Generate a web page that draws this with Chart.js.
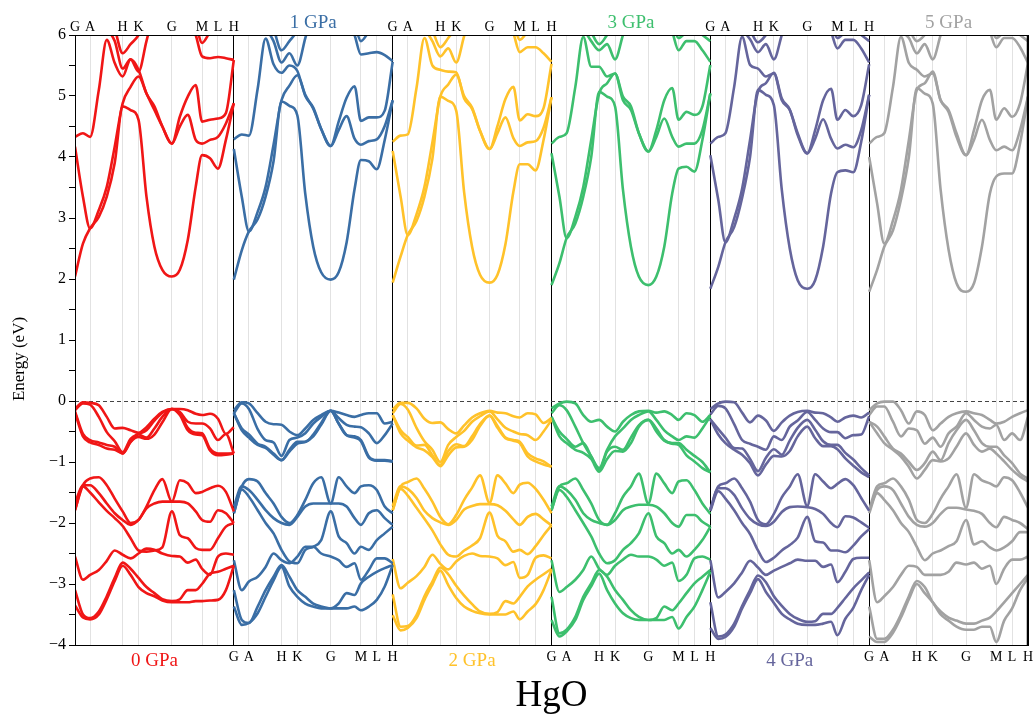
<!DOCTYPE html>
<html>
<head>
<meta charset="utf-8">
<title>HgO band structure</title>
<script src="https://cdn.jsdelivr.net/npm/chart.js@4.4.1/dist/chart.umd.min.js"></script>
<style>
  html, body { margin: 0; padding: 0; background: #fff; }
  #wrap { width: 1035px; height: 715px; }
</style>
</head>
<body>
<div id="wrap"><canvas id="bands" width="1035" height="715"></canvas></div>
<script>
/* ========================================
   HgO band structure, 0-5 GPa (Chart.js)
   ======================================== */

/* k-path sample positions inside one panel (0 = G, 1 = H) */
var K_PATH = [0, 0.05, 0.095, 0.15, 0.2, 0.25, 0.30, 0.35, 0.40, 0.45, 0.5, 0.55, 0.61, 0.66, 0.71, 0.76, 0.80, 0.85, 0.90, 0.95, 1.0];

/* high-symmetry points */
var SYM_NAMES = ['G', 'A', 'H', 'K', 'G', 'M', 'L', 'H'];
var SYM_FRAC = [0, 0.095, 0.30, 0.40, 0.61, 0.80, 0.90, 1.0];

var PANEL_TITLES = ['0 GPa', '1 GPa', '2 GPa', '3 GPa', '4 GPa', '5 GPa'];
var PANEL_COLORS = ['#f01616', '#3a6ea5', '#ffc22a', '#3dbf6e', '#65659c', '#a2a2a2'];

var Y_TICKS = [-4, -3.5, -3, -2.5, -2, -1.5, -1, -0.5, 0, 0.5, 1, 1.5, 2, 2.5, 3, 3.5, 4, 4.5, 5, 5.5, 6];

/* bands per pressure: 4 top valence, 3 middle, 3 lower, 5 conduction (eV) */
var BANDS_0 = [
  [-0.13, -0.02, -0.03, -0.07, -0.26, -0.45, -0.44, -0.48, -0.52, -0.43, -0.29, -0.18, -0.13, -0.13, -0.15, -0.21, -0.23, -0.21, -0.29, -0.54, -0.43],
  [-0.15, -0.04, -0.06, -0.26, -0.51, -0.66, -0.84, -0.62, -0.54, -0.48, -0.32, -0.19, -0.13, -0.18, -0.34, -0.37, -0.37, -0.45, -0.64, -0.54, -0.86],
  [-0.17, -0.54, -0.64, -0.68, -0.72, -0.75, -0.86, -0.67, -0.55, -0.6, -0.45, -0.26, -0.13, -0.2, -0.44, -0.52, -0.53, -0.78, -0.86, -0.86, -0.86],
  [-0.19, -0.58, -0.68, -0.72, -0.78, -0.8, -0.86, -0.67, -0.59, -0.62, -0.55, -0.35, -0.13, -0.23, -0.48, -0.55, -0.56, -0.81, -0.89, -0.88, -0.86],
  [-1.79, -1.38, -1.27, -1.25, -1.38, -1.6, -1.81, -2.0, -1.95, -1.73, -1.46, -1.28, -1.65, -1.3, -1.35, -1.51, -1.49, -1.43, -1.39, -1.49, -1.81],
  [-1.68, -1.38, -1.38, -1.51, -1.68, -1.84, -1.95, -2.03, -1.95, -1.76, -1.68, -1.65, -1.65, -1.65, -1.68, -1.81, -1.95, -1.98, -1.79, -1.84, -2.0],
  [-1.79, -1.4, -1.5, -1.66, -1.8, -1.92, -2.05, -2.25, -2.45, -2.47, -2.45, -2.4, -1.81, -2.2, -2.25, -2.41, -2.44, -2.44, -2.25, -2.06, -2.0],
  [-2.55, -2.93, -2.85, -2.77, -2.62, -2.45, -2.52, -2.58, -2.5, -2.42, -2.44, -2.5, -2.54, -2.55, -2.65, -2.6, -2.75, -2.85, -2.55, -2.5, -2.52],
  [-3.1, -3.5, -3.56, -3.45, -3.2, -2.9, -2.65, -2.75, -2.9, -3.05, -3.15, -3.25, -3.28, -3.25, -3.1, -3.1, -3.0, -2.83, -2.8, -2.75, -2.7],
  [-3.35, -3.55, -3.58, -3.5, -3.25, -2.95, -2.7, -2.85, -3.05, -3.15, -3.2, -3.27, -3.3, -3.3, -3.3, -3.28, -3.28, -3.27, -3.26, -3.1, -2.7],
  [2.04, 2.58, 2.83, 3.02, 3.35, 3.9, 4.83, 4.77, 4.61, 3.35, 2.53, 2.15, 2.04, 2.15, 2.64, 3.51, 4.03, 3.98, 3.81, 4.28, 4.88],
  [4.17, 3.35, 2.83, 3.13, 3.51, 4.17, 4.88, 5.15, 5.32, 5.04, 4.77, 4.5, 4.22, 4.5, 4.69, 4.28, 4.22, 4.28, 4.33, 4.55, 4.88],
  [4.33, 4.39, 4.33, 5.1, 5.92, 5.54, 5.32, 5.6, 5.43, 5.04, 4.83, 4.5, 4.22, 4.66, 4.99, 5.18, 4.58, 4.61, 4.63, 4.72, 5.59],
  [6.8, 6.6, 6.4, 6.2, 6.1, 5.9, 5.45, 5.6, 5.4, 5.9, 6.4, 6.6, 6.8, 6.6, 6.3, 6.0, 5.65, 5.62, 5.64, 5.62, 5.59],
  [7.0, 7.0, 6.8, 6.6, 6.4, 6.1, 5.7, 5.85, 6.0, 6.3, 6.6, 6.8, 7.0, 6.8, 6.6, 6.2, 5.87, 6.05, 6.2, 6.4, 6.6]
];

var BANDS_1 = [
  [-0.15, -0.02, -0.04, -0.2, -0.34, -0.38, -0.39, -0.5, -0.56, -0.45, -0.31, -0.23, -0.16, -0.19, -0.23, -0.26, -0.23, -0.2, -0.2, -0.37, -0.34],
  [-0.2, -0.04, -0.13, -0.46, -0.64, -0.68, -0.9, -0.64, -0.6, -0.53, -0.37, -0.26, -0.16, -0.28, -0.39, -0.42, -0.43, -0.53, -0.69, -0.56, -0.37],
  [-0.2, -0.45, -0.55, -0.7, -0.75, -0.86, -0.97, -0.8, -0.67, -0.67, -0.55, -0.36, -0.16, -0.37, -0.56, -0.58, -0.64, -0.91, -0.97, -0.97, -0.99],
  [-0.2, -0.48, -0.6, -0.72, -0.77, -0.88, -0.97, -0.83, -0.7, -0.67, -0.58, -0.39, -0.16, -0.37, -0.56, -0.6, -0.66, -0.93, -0.98, -0.98, -0.99],
  [-1.84, -1.4, -1.28, -1.32, -1.51, -1.68, -1.9, -2.0, -1.87, -1.62, -1.35, -1.25, -1.68, -1.25, -1.4, -1.51, -1.4, -1.38, -1.46, -1.73, -1.84],
  [-1.73, -1.4, -1.46, -1.62, -1.79, -1.92, -2.0, -2.03, -1.9, -1.73, -1.68, -1.68, -1.68, -1.68, -1.73, -1.92, -2.03, -1.84, -1.79, -1.92, -2.03],
  [-1.84, -1.45, -1.57, -1.79, -2.0, -2.17, -2.44, -2.63, -2.66, -2.44, -2.39, -2.28, -1.81, -2.22, -2.33, -2.5, -2.39, -2.44, -2.28, -2.17, -2.06],
  [-2.61, -3.1, -2.96, -2.88, -2.72, -2.5, -2.61, -2.66, -2.55, -2.39, -2.39, -2.5, -2.55, -2.61, -2.72, -2.66, -2.93, -2.77, -2.58, -2.58, -2.66],
  [-3.1, -3.59, -3.64, -3.37, -3.1, -2.88, -2.69, -2.88, -3.1, -3.21, -3.32, -3.37, -3.4, -3.32, -3.15, -3.18, -2.99, -2.88, -2.8, -2.74, -2.69],
  [-3.37, -3.67, -3.64, -3.48, -3.21, -2.94, -2.72, -3.04, -3.21, -3.32, -3.37, -3.4, -3.4, -3.4, -3.4, -3.37, -3.43, -3.37, -3.26, -3.04, -2.69],
  [1.99, 2.47, 2.78, 2.98, 3.35, 3.93, 4.91, 4.84, 4.68, 3.39, 2.53, 2.11, 1.99, 2.11, 2.6, 3.47, 3.95, 3.93, 3.8, 4.28, 4.93],
  [4.13, 3.35, 2.78, 3.1, 3.51, 4.2, 4.93, 5.17, 5.34, 5.02, 4.79, 4.46, 4.18, 4.44, 4.67, 4.3, 4.2, 4.26, 4.29, 4.51, 4.93],
  [4.29, 4.37, 4.35, 5.12, 5.94, 5.52, 5.38, 5.5, 5.41, 5.0, 4.81, 4.46, 4.18, 4.58, 4.97, 5.16, 4.59, 4.65, 4.65, 4.76, 5.56],
  [6.8, 6.6, 6.4, 6.2, 6.1, 5.9, 5.55, 5.7, 5.5, 5.95, 6.4, 6.6, 6.8, 6.6, 6.3, 6.0, 5.68, 5.7, 5.72, 5.67, 5.57],
  [7.0, 7.0, 6.8, 6.6, 6.4, 6.1, 5.75, 5.9, 6.07, 6.33, 6.6, 6.8, 7.0, 6.8, 6.57, 6.2, 5.9, 6.05, 6.17, 6.27, 6.37]
];

var BANDS_2 = [
  [-0.14, -0.03, -0.03, -0.12, -0.29, -0.36, -0.35, -0.46, -0.53, -0.4, -0.27, -0.2, -0.16, -0.19, -0.2, -0.25, -0.27, -0.2, -0.22, -0.36, -0.28],
  [-0.2, -0.05, -0.14, -0.44, -0.66, -0.8, -1.0, -0.72, -0.59, -0.49, -0.34, -0.25, -0.17, -0.3, -0.44, -0.5, -0.54, -0.56, -0.64, -0.5, -0.31],
  [-0.23, -0.48, -0.59, -0.73, -0.72, -0.89, -1.05, -0.82, -0.71, -0.74, -0.58, -0.38, -0.24, -0.41, -0.6, -0.64, -0.67, -0.86, -0.94, -0.99, -1.08],
  [-0.23, -0.53, -0.65, -0.76, -0.81, -0.92, -1.07, -0.89, -0.76, -0.75, -0.64, -0.41, -0.24, -0.44, -0.61, -0.65, -0.69, -0.91, -0.99, -1.04, -1.08],
  [-1.79, -1.4, -1.33, -1.27, -1.44, -1.65, -1.9, -2.02, -1.87, -1.62, -1.42, -1.22, -1.67, -1.22, -1.35, -1.51, -1.37, -1.34, -1.44, -1.62, -1.84],
  [-1.72, -1.4, -1.44, -1.59, -1.8, -1.92, -1.99, -2.03, -1.95, -1.78, -1.72, -1.69, -1.69, -1.71, -1.8, -1.94, -2.03, -1.9, -1.85, -1.94, -2.04],
  [-1.79, -1.44, -1.55, -1.75, -1.93, -2.12, -2.35, -2.52, -2.55, -2.45, -2.37, -2.25, -1.83, -2.21, -2.3, -2.47, -2.44, -2.51, -2.38, -2.2, -2.04],
  [-2.59, -3.07, -2.98, -2.87, -2.72, -2.52, -2.67, -2.76, -2.63, -2.54, -2.5, -2.54, -2.55, -2.58, -2.69, -2.64, -2.9, -2.85, -2.57, -2.53, -2.58],
  [-3.17, -3.7, -3.69, -3.51, -3.2, -2.96, -2.73, -2.84, -3.03, -3.19, -3.33, -3.45, -3.49, -3.46, -3.28, -3.32, -3.21, -3.04, -2.93, -2.84, -2.75],
  [-3.51, -3.76, -3.72, -3.56, -3.26, -3.01, -2.78, -3.02, -3.23, -3.37, -3.44, -3.48, -3.5, -3.5, -3.5, -3.45, -3.58, -3.45, -3.33, -3.1, -2.77],
  [1.94, 2.37, 2.72, 2.95, 3.35, 3.97, 4.99, 4.92, 4.76, 3.42, 2.53, 2.07, 1.94, 2.07, 2.57, 3.43, 3.88, 3.88, 3.78, 4.28, 4.98],
  [4.1, 3.35, 2.72, 3.06, 3.51, 4.24, 4.99, 5.19, 5.35, 5.0, 4.81, 4.43, 4.13, 4.39, 4.65, 4.31, 4.18, 4.24, 4.26, 4.48, 4.98],
  [4.25, 4.35, 4.37, 5.13, 5.95, 5.5, 5.43, 5.4, 5.39, 4.96, 4.79, 4.43, 4.13, 4.51, 4.95, 5.15, 4.6, 4.7, 4.67, 4.8, 5.53],
  [6.8, 6.6, 6.4, 6.2, 6.1, 5.9, 5.65, 5.78, 5.55, 5.98, 6.4, 6.6, 6.8, 6.6, 6.3, 6.03, 5.72, 5.8, 5.8, 5.7, 5.56],
  [7.0, 7.0, 6.8, 6.6, 6.35, 6.08, 5.8, 5.95, 6.13, 6.37, 6.6, 6.8, 7.0, 6.8, 6.53, 6.2, 5.92, 6.05, 6.13, 6.13, 6.13]
];

var BANDS_3 = [
  [-0.12, -0.04, -0.01, -0.04, -0.23, -0.34, -0.31, -0.42, -0.5, -0.34, -0.23, -0.17, -0.16, -0.19, -0.17, -0.23, -0.31, -0.2, -0.23, -0.34, -0.23],
  [-0.2, -0.07, -0.15, -0.42, -0.69, -0.91, -1.1, -0.8, -0.58, -0.45, -0.31, -0.23, -0.17, -0.31, -0.48, -0.58, -0.64, -0.58, -0.6, -0.45, -0.25],
  [-0.26, -0.5, -0.62, -0.75, -0.69, -0.91, -1.13, -0.83, -0.75, -0.8, -0.6, -0.4, -0.31, -0.45, -0.64, -0.69, -0.69, -0.8, -0.9, -1.0, -1.17],
  [-0.26, -0.58, -0.69, -0.8, -0.85, -0.95, -1.16, -0.95, -0.82, -0.83, -0.69, -0.42, -0.31, -0.5, -0.65, -0.7, -0.72, -0.89, -0.99, -1.1, -1.17],
  [-1.79, -1.4, -1.35, -1.27, -1.46, -1.68, -1.95, -2.03, -1.84, -1.57, -1.4, -1.19, -1.68, -1.19, -1.35, -1.51, -1.32, -1.3, -1.46, -1.68, -1.85],
  [-1.73, -1.4, -1.46, -1.62, -1.84, -1.95, -2.0, -2.03, -1.95, -1.79, -1.73, -1.7, -1.7, -1.73, -1.84, -2.0, -2.06, -1.87, -1.87, -1.98, -2.06],
  [-1.79, -1.46, -1.57, -1.79, -2.0, -2.22, -2.5, -2.66, -2.61, -2.44, -2.33, -2.17, -1.84, -2.22, -2.33, -2.5, -2.44, -2.55, -2.44, -2.28, -2.06],
  [-2.61, -3.13, -3.05, -2.93, -2.77, -2.55, -2.75, -2.85, -2.7, -2.6, -2.52, -2.55, -2.55, -2.6, -2.7, -2.65, -2.95, -2.85, -2.58, -2.55, -2.6],
  [-3.21, -3.81, -3.75, -3.54, -3.21, -2.99, -2.77, -2.88, -3.1, -3.26, -3.43, -3.54, -3.59, -3.56, -3.37, -3.43, -3.32, -3.15, -2.99, -2.88, -2.77],
  [-3.59, -3.86, -3.78, -3.59, -3.26, -3.04, -2.83, -3.1, -3.32, -3.48, -3.56, -3.59, -3.59, -3.59, -3.59, -3.54, -3.73, -3.54, -3.37, -3.1, -2.8],
  [1.9, 2.26, 2.67, 2.91, 3.35, 4.0, 5.07, 4.99, 4.83, 3.46, 2.53, 2.04, 1.9, 2.04, 2.53, 3.4, 3.81, 3.84, 3.76, 4.28, 5.04],
  [4.06, 3.35, 2.67, 3.02, 3.51, 4.28, 5.04, 5.21, 5.37, 4.99, 4.83, 4.39, 4.09, 4.33, 4.63, 4.33, 4.17, 4.22, 4.22, 4.44, 5.04],
  [4.22, 4.33, 4.39, 5.15, 5.97, 5.48, 5.48, 5.32, 5.37, 4.93, 4.77, 4.39, 4.09, 4.44, 4.93, 5.13, 4.61, 4.74, 4.69, 4.83, 5.51],
  [6.8, 6.6, 6.4, 6.2, 6.1, 5.9, 5.75, 5.85, 5.6, 6.0, 6.4, 6.6, 6.8, 6.6, 6.3, 6.05, 5.75, 5.9, 5.9, 5.75, 5.56],
  [7.0, 7.0, 6.8, 6.6, 6.3, 6.05, 5.85, 6.0, 6.2, 6.4, 6.6, 6.8, 7.0, 6.8, 6.5, 6.2, 5.95, 6.05, 6.1, 6.0, 5.9]
];

var BANDS_4 = [
  [-0.13, -0.04, -0.01, -0.02, -0.19, -0.35, -0.24, -0.32, -0.49, -0.35, -0.24, -0.18, -0.16, -0.19, -0.2, -0.27, -0.34, -0.27, -0.24, -0.27, -0.19],
  [-0.22, -0.08, -0.12, -0.38, -0.64, -0.7, -0.75, -0.8, -0.58, -0.64, -0.42, -0.32, -0.18, -0.31, -0.45, -0.51, -0.51, -0.61, -0.56, -0.55, -0.25],
  [-0.3, -0.46, -0.6, -0.77, -0.78, -0.95, -1.15, -0.93, -0.79, -0.88, -0.65, -0.44, -0.31, -0.47, -0.66, -0.72, -0.72, -0.85, -0.96, -1.1, -1.22],
  [-0.3, -0.55, -0.69, -0.8, -0.88, -1.02, -1.22, -1.04, -0.9, -0.91, -0.82, -0.58, -0.42, -0.61, -0.74, -0.74, -0.79, -0.94, -1.06, -1.17, -1.25],
  [-1.79, -1.4, -1.35, -1.27, -1.43, -1.65, -1.95, -2.02, -1.85, -1.58, -1.4, -1.2, -1.72, -1.2, -1.32, -1.43, -1.36, -1.28, -1.38, -1.59, -1.8],
  [-1.77, -1.43, -1.43, -1.54, -1.76, -1.93, -2.02, -2.05, -1.98, -1.82, -1.74, -1.73, -1.74, -1.77, -1.85, -2.0, -2.07, -1.89, -1.91, -1.99, -2.08],
  [-1.8, -1.48, -1.6, -1.79, -2.0, -2.18, -2.45, -2.64, -2.57, -2.45, -2.36, -2.24, -1.9, -2.3, -2.32, -2.45, -2.45, -2.48, -2.37, -2.22, -2.1],
  [-2.61, -3.22, -3.13, -2.99, -2.81, -2.62, -2.73, -2.85, -2.78, -2.72, -2.66, -2.6, -2.62, -2.62, -2.72, -2.68, -2.97, -2.8, -2.59, -2.57, -2.57],
  [-3.3, -3.86, -3.83, -3.65, -3.36, -3.1, -2.86, -2.97, -3.2, -3.36, -3.49, -3.57, -3.62, -3.61, -3.49, -3.49, -3.39, -3.23, -3.07, -2.94, -2.81],
  [-3.72, -3.9, -3.87, -3.7, -3.4, -3.15, -2.92, -3.13, -3.31, -3.49, -3.58, -3.65, -3.67, -3.67, -3.65, -3.62, -3.84, -3.57, -3.39, -3.1, -2.85],
  [1.84, 2.2, 2.6, 2.85, 3.33, 4.0, 5.1, 5.02, 4.85, 3.46, 2.5, 1.98, 1.84, 1.98, 2.53, 3.4, 3.75, 3.78, 3.75, 4.25, 5.02],
  [4.03, 3.3, 2.6, 2.99, 3.48, 4.28, 5.07, 5.21, 5.38, 4.96, 4.78, 4.36, 4.06, 4.3, 4.62, 4.3, 4.14, 4.2, 4.16, 4.44, 5.02],
  [4.22, 4.33, 4.39, 5.15, 5.97, 5.51, 5.45, 5.32, 5.37, 4.93, 4.77, 4.39, 4.06, 4.44, 4.93, 5.12, 4.61, 4.77, 4.67, 4.85, 5.52],
  [6.8, 6.6, 6.35, 6.15, 6.08, 5.93, 5.72, 5.85, 5.6, 6.0, 6.4, 6.6, 6.8, 6.6, 6.3, 6.05, 5.78, 5.92, 5.92, 5.78, 5.55],
  [7.0, 7.0, 6.8, 6.6, 6.3, 6.08, 5.88, 6.0, 6.2, 6.4, 6.6, 6.8, 7.0, 6.8, 6.5, 6.2, 5.95, 6.05, 6.1, 6.0, 5.9]
];

var BANDS_5 = [
  [-0.15, -0.04, -0.01, -0.01, -0.15, -0.37, -0.17, -0.23, -0.48, -0.37, -0.26, -0.2, -0.17, -0.2, -0.23, -0.31, -0.37, -0.34, -0.26, -0.2, -0.15],
  [-0.23, -0.09, -0.09, -0.34, -0.58, -0.45, -0.48, -0.7, -0.6, -0.75, -0.53, -0.42, -0.2, -0.31, -0.42, -0.45, -0.39, -0.64, -0.53, -0.64, -0.26],
  [-0.34, -0.42, -0.58, -0.78, -0.86, -1.0, -1.13, -1.02, -0.83, -0.97, -0.69, -0.48, -0.31, -0.48, -0.69, -0.75, -0.75, -0.89, -1.02, -1.19, -1.27],
  [-0.34, -0.53, -0.69, -0.8, -0.91, -1.08, -1.27, -1.13, -0.97, -0.99, -0.94, -0.75, -0.53, -0.72, -0.83, -0.78, -0.86, -0.99, -1.13, -1.24, -1.32],
  [-1.79, -1.4, -1.35, -1.27, -1.4, -1.62, -1.95, -2.0, -1.85, -1.6, -1.4, -1.2, -1.75, -1.2, -1.3, -1.35, -1.4, -1.25, -1.3, -1.5, -1.75],
  [-1.8, -1.46, -1.4, -1.46, -1.68, -1.9, -2.03, -2.06, -2.0, -1.85, -1.75, -1.75, -1.78, -1.8, -1.85, -2.0, -2.07, -1.9, -1.95, -2.0, -2.1],
  [-1.84, -1.51, -1.62, -1.79, -2.0, -2.15, -2.39, -2.61, -2.5, -2.45, -2.38, -2.3, -1.95, -2.35, -2.3, -2.4, -2.45, -2.4, -2.3, -2.15, -2.15],
  [-2.61, -3.3, -3.2, -3.05, -2.85, -2.7, -2.72, -2.85, -2.85, -2.85, -2.8, -2.65, -2.68, -2.65, -2.75, -2.7, -3.0, -2.75, -2.6, -2.6, -2.55],
  [-3.37, -3.9, -3.9, -3.75, -3.5, -3.2, -2.95, -3.05, -3.3, -3.45, -3.55, -3.6, -3.65, -3.65, -3.6, -3.55, -3.45, -3.3, -3.15, -3.0, -2.85],
  [-3.86, -3.95, -3.95, -3.8, -3.55, -3.25, -3.0, -3.15, -3.3, -3.5, -3.6, -3.7, -3.75, -3.75, -3.7, -3.7, -3.95, -3.6, -3.4, -3.1, -2.9],
  [1.79, 2.15, 2.53, 2.8, 3.3, 4.0, 5.13, 5.04, 4.88, 3.46, 2.48, 1.93, 1.79, 1.93, 2.53, 3.4, 3.68, 3.73, 3.73, 4.22, 4.99],
  [4.0, 3.24, 2.58, 2.96, 3.46, 4.28, 5.1, 5.21, 5.4, 4.93, 4.74, 4.33, 4.03, 4.28, 4.61, 4.28, 4.11, 4.17, 4.11, 4.44, 4.99],
  [4.22, 4.33, 4.39, 5.15, 5.97, 5.54, 5.43, 5.32, 5.37, 4.93, 4.77, 4.39, 4.03, 4.44, 4.93, 5.1, 4.61, 4.8, 4.66, 4.88, 5.54],
  [6.8, 6.6, 6.3, 6.1, 6.05, 5.95, 5.7, 5.85, 5.6, 6.0, 6.4, 6.6, 6.8, 6.6, 6.3, 6.05, 5.8, 5.95, 5.95, 5.8, 5.54],
  [7.0, 7.0, 6.8, 6.6, 6.3, 6.1, 5.9, 6.0, 6.2, 6.4, 6.6, 6.8, 7.0, 6.8, 6.5, 6.2, 5.95, 6.05, 6.1, 6.0, 5.9]
];

var PANELS = [BANDS_0, BANDS_1, BANDS_2, BANDS_3, BANDS_4, BANDS_5];

var SERIF = '"Liberation Serif", "Times New Roman", "DejaVu Serif", serif';

/* one dataset per band, x offset by panel index */
var datasets = [];
PANELS.forEach(function(bands, p) {
  bands.forEach(function(band) {
    datasets.push({
      data: K_PATH.map(function(k, i) { return { x: p + k, y: band[i] }; }),
      borderColor: PANEL_COLORS[p],
      borderWidth: 2.6,
      pointRadius: 0,
      fill: false,
      cubicInterpolationMode: 'monotone',
      clip: 0
    });
  });
});

/* x grid ticks: every high-symmetry point of every panel */
var xTickValues = [];
for (var p = 0; p < PANELS.length; p++) {
  SYM_FRAC.forEach(function(f, i) {
    if (i < SYM_FRAC.length - 1) xTickValues.push(p + f);
  });
}
xTickValues.push(PANELS.length);

function isBoundary(v) { return Math.abs(v - Math.round(v)) < 1e-6; }

/* dashed Fermi line, frame and all texts */
var decorPlugin = {
  id: 'decor',
  beforeDatasetsDraw: function(chart) {
    var ctx = chart.ctx, area = chart.chartArea;
    var y0 = Math.round(chart.scales.y.getPixelForValue(0)) + 0.5;
    ctx.save();
    ctx.strokeStyle = '#444';
    ctx.lineWidth = 1.2;
    ctx.setLineDash([4, 3]);
    ctx.beginPath();
    ctx.moveTo(area.left, y0);
    ctx.lineTo(area.right, y0);
    ctx.stroke();
    ctx.restore();
  },
  afterDraw: function(chart) {
    var ctx = chart.ctx, area = chart.chartArea, xs = chart.scales.x;
    ctx.save();
    /* frame */
    ctx.strokeStyle = '#000';
    ctx.lineWidth = 1;
    ctx.strokeRect(Math.round(area.left) + 0.5, Math.round(area.top) + 0.5,
      Math.round(area.right - area.left) - 1, Math.round(area.bottom - area.top));
    ctx.lineWidth = 1.5;
    ctx.beginPath();
    ctx.moveTo(area.right - 0.5, area.top);
    ctx.lineTo(area.right - 0.5, area.bottom);
    ctx.stroke();

    /* high-symmetry labels: top for even panels, bottom for odd panels */
    ctx.fillStyle = '#000';
    ctx.font = '14px ' + SERIF;
    ctx.textAlign = 'center';
    ctx.textBaseline = 'alphabetic';
    for (var p = 0; p < PANELS.length; p++) {
      var yLab = (p % 2 === 0) ? area.top - 4 : area.bottom + 16;
      SYM_NAMES.forEach(function(name, i) {
        ctx.fillText(name, xs.getPixelForValue(p + SYM_FRAC[i]), yLab);
      });
    }

    /* pressure titles */
    ctx.font = '19px ' + SERIF;
    PANEL_TITLES.forEach(function(title, p) {
      ctx.fillStyle = PANEL_COLORS[p];
      var yT = (p % 2 === 1) ? area.top - 7 : area.bottom + 21;
      ctx.fillText(title, xs.getPixelForValue(p + 0.5), yT);
    });

    /* compound name */
    ctx.fillStyle = '#000';
    ctx.font = '37px ' + SERIF;
    ctx.fillText('HgO', (area.left + area.right) / 2, 706);

    /* y axis title */
    ctx.font = '17px ' + SERIF;
    ctx.translate(20, 359);
    ctx.rotate(-Math.PI / 2);
    ctx.textBaseline = 'middle';
    ctx.fillText('Energy (eV)', 0, 0);
    ctx.restore();
  }
};

new Chart(document.getElementById('bands'), {
  type: 'line',
  data: { datasets: datasets },
  options: {
    responsive: false,
    animation: false,
    events: [],
    layout: { padding: { top: 35, right: 7, left: 0, bottom: 0 } },
    plugins: { legend: { display: false }, tooltip: { enabled: false } },
    scales: {
      x: {
        type: 'linear',
        min: 0,
        max: PANELS.length,
        afterBuildTicks: function(scale) {
          scale.ticks = xTickValues.map(function(v) { return { value: v }; });
        },
        afterFit: function(scale) { scale.height = 70; },
        ticks: { display: false },
        grid: {
          drawTicks: false,
          lineWidth: 1,
          color: function(c) { return isBoundary(c.tick.value) ? '#000' : '#e2e2e2'; }
        },
        border: { display: true, color: '#000' }
      },
      y: {
        type: 'linear',
        min: -4,
        max: 6,
        afterBuildTicks: function(scale) {
          scale.ticks = Y_TICKS.map(function(v) { return { value: v }; });
        },
        afterFit: function(scale) { scale.width = 75; },
        ticks: {
          autoSkip: false,
          color: '#000',
          padding: 3,
          font: { family: SERIF, size: 16 },
          callback: function(v) {
            if (!Number.isInteger(v)) return '';
            return v < 0 ? '\u2212' + (-v) : String(v);
          }
        },
        grid: { drawOnChartArea: false, tickLength: 6, color: '#000' },
        border: { display: true, color: '#000' }
      }
    }
  },
  plugins: [decorPlugin]
});
</script>
</body>
</html>
